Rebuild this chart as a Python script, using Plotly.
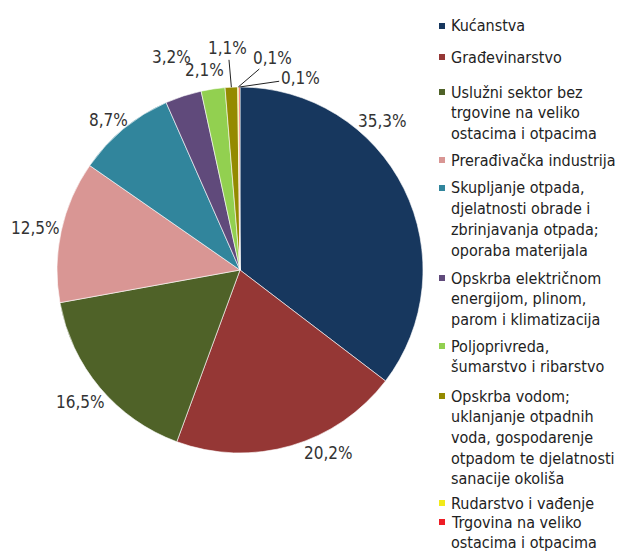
import math
import plotly.graph_objects as go

# ---------------- data ----------------
categories = [
    "Kućanstva",
    "Građevinarstvo",
    "Uslužni sektor bez<br>trgovine na veliko<br>ostacima i otpacima",
    "Prerađivačka industrija",
    "Skupljanje otpada,<br>djelatnosti obrade i<br>zbrinjavanja otpada;<br>oporaba materijala",
    "Opskrba električnom<br>energijom, plinom,<br>parom i klimatizacija",
    "Poljoprivreda,<br>šumarstvo i ribarstvo",
    "Opskrba vodom;<br>uklanjanje otpadnih<br>voda, gospodarenje<br>otpadom te djelatnosti<br>sanacije okoliša",
    "Rudarstvo i vađenje",
    "Trgovina na veliko<br>ostacima i otpacima",
]
shares = [35.3, 20.2, 16.5, 12.5, 8.7, 3.2, 2.1, 1.1, 0.1, 0.1]
colors = ["#17375E", "#953735", "#4F6228", "#D99694", "#31859C",
          "#604A7B", "#92D050", "#948A00", "#F2EA1A", "#EE1C25"]

# ---------------- layout constants (screen pixels) ----------------
PAGE_OFF = 8                     # default body margin of the html page
W, H = 626 - PAGE_OFF, 554 - PAGE_OFF
CX, CY, R = 240, 270, 183        # pie centre / radius
FONT = "DejaVu Sans Condensed, Liberation Sans Narrow, DejaVu Sans, sans-serif"
LABEL_SIZE = 17
LEGEND_SIZE = 16
# label placement: (angle nudge in degrees, distance from centre in px, leader line)
label_place = [(-20, 206, False), (-9.5, 203, False), (0.5, 207, False),
               (-0.7, 209, False), (-1.8, 200, False), (0.3, 224, False),
               (-1.7, 203, False), (-0.4, 222, True), (9.3, 215, True),
               (17.6, 201, True)]
legend_first_line = [26, 57, 92, 160, 188, 278, 346, 396, 503, 522]
LEGEND_LINE = 20.7
LEGEND_MARK_X = 439
LEGEND_TEXT_X = 449


def px(x):
    return (x - PAGE_OFF) / W


def py(y):
    return 1 - (y - PAGE_OFF) / H


fig = go.Figure(go.Pie(
    labels=[c.replace("<br>", " ") for c in categories],
    values=shares,
    sort=False,
    direction="clockwise",
    rotation=0,
    marker=dict(colors=colors, line=dict(color="white", width=0.6)),
    textinfo="none",
    domain=dict(x=[px(CX - R), px(CX + R)], y=[py(CY + R), py(CY - R)]),
    showlegend=False,
    hovertemplate="%{label}: %{value:.1f}%<extra></extra>",
))

annotations = []
shapes = []
total = sum(shares)
cum = 0.0
for i, v in enumerate(shares):
    mid = 360.0 * (cum + v / 2) / total
    cum += v
    nudge, dist, leader = label_place[i]
    text = f"{v:.1f}%".replace(".", ",")
    b = math.radians(mid + nudge)
    lx, ly = CX + dist * math.sin(b), CY - dist * math.cos(b)
    if leader:
        a = math.radians(mid)
        tipx, tipy = CX + R * math.sin(a), CY - R * math.cos(a)
        annotations.append(dict(
            x=px(tipx), y=py(tipy), xref="paper", yref="paper",
            ax=lx - tipx, ay=ly - tipy, axref="pixel", ayref="pixel",
            text=text, showarrow=True, arrowhead=0, arrowwidth=1,
            arrowcolor="#222222", standoff=0, startstandoff=0,
            font=dict(size=LABEL_SIZE, color="#333333", family=FONT),
        ))
    else:
        annotations.append(dict(
            x=px(lx), y=py(ly), xref="paper", yref="paper",
            text=text, showarrow=False, xanchor="center", yanchor="middle",
            font=dict(size=LABEL_SIZE, color="#333333", family=FONT),
        ))

# legend built from the categories
for i, cat in enumerate(categories):
    y0 = legend_first_line[i]
    shapes.append(dict(
        type="rect", xref="paper", yref="paper",
        x0=px(LEGEND_MARK_X), x1=px(LEGEND_MARK_X + 6),
        y0=py(y0 + 3), y1=py(y0 - 3),
        fillcolor=colors[i], line=dict(width=0),
    ))
    for k, line in enumerate(cat.split("<br>")):
        annotations.append(dict(
            x=px(LEGEND_TEXT_X), y=py(y0 + k * LEGEND_LINE),
            xref="paper", yref="paper", xanchor="left", yanchor="middle",
            text=line, showarrow=False,
            font=dict(size=LEGEND_SIZE, color="#222222", family=FONT),
        ))

fig.update_layout(
    width=W, height=H,
    margin=dict(l=0, r=0, t=0, b=0),
    paper_bgcolor="white",
    plot_bgcolor="white",
    separators=",.",
    font=dict(family=FONT, color="#222222"),
    annotations=annotations,
    shapes=shapes,
    showlegend=False,
)

fig.write_html("out.html")
